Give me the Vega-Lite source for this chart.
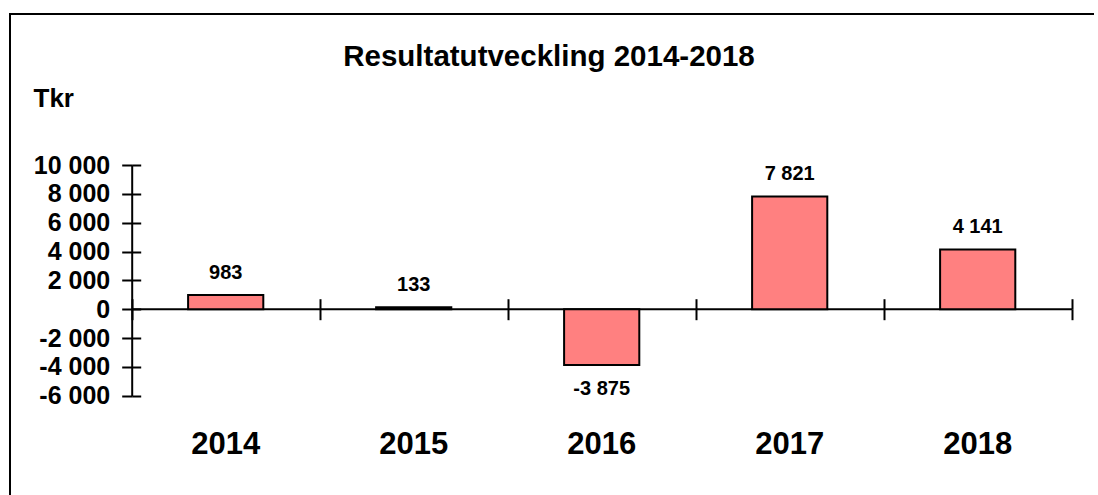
{
  "$schema": "https://vega.github.io/schema/vega-lite/v6.json",
  "width": 1088,
  "height": 481,
  "autosize": {"type": "none"},
  "padding": {"left": 10, "top": 14, "right": 0, "bottom": 0},
  "background": "white",
  "title": {
    "text": "Resultatutveckling 2014-2018",
    "anchor": "middle",
    "frame": "group",
    "font": "Liberation Sans",
    "fontSize": 29.5,
    "fontWeight": "bold",
    "color": "black",
    "baseline": "alphabetic",
    "offset": -81,
    "dx": -5
  },
  "data": {
    "values": [
      {"year": "2014", "value": 983},
      {"year": "2015", "value": 133},
      {"year": "2016", "value": -3875},
      {"year": "2017", "value": 7821},
      {"year": "2018", "value": 4141}
    ]
  },
  "config": {
    "locale": {
      "number": {"decimal": ",", "thousands": " ", "grouping": [3], "currency": ["", " kr"], "minus": "-"}
    },
    "view": {"stroke": "black", "strokeWidth": 2, "strokeDash": [1084, 1573, 481, 10]},
    "axis": {
      "domainColor": "black",
      "tickColor": "black",
      "labelColor": "black",
      "titleColor": "black",
      "domainWidth": 2,
      "tickWidth": 2,
      "grid": false,
      "labelFont": "Liberation Sans",
      "labelFontWeight": "bold",
      "titleFont": "Liberation Sans"
    },
    "text": {"font": "Liberation Sans", "fontWeight": "bold", "fontSize": 20, "color": "black"}
  },
  "resolve": {"axis": {"x": "independent", "y": "independent"}},
  "layer": [
    {
      "mark": {"type": "bar", "fill": "#FF8080", "stroke": "black", "strokeWidth": 2, "width": {"band": 0.4}},
      "encoding": {
        "x": {
          "field": "year", "type": "nominal",
          "scale": {"type": "band", "paddingInner": 0, "paddingOuter": 0, "range": [121.7, 1061.7]},
          "axis": {"orient": "bottom", "offset": -42, "domain": false, "ticks": false, "tickSize": 0, "labelPadding": 0, "labelBaseline": "alphabetic", "labelFontSize": 31, "labelAngle": 0, "title": null}
        },
        "y": {
          "field": "value", "type": "quantitative",
          "scale": {"domain": [-6000, 10000], "nice": false, "zero": false, "range": [381.7, 151]},
          "axis": {
            "orient": "left", "offset": -121.7,
            "values": [-6000, -4000, -2000, 0, 2000, 4000, 6000, 8000, 10000],
            "format": ",.0f",
            "tickSize": 10, "labelPadding": 12, "labelFontSize": 25, "labelBaseline": "middle",
            "title": "Tkr", "titleAngle": 0, "titleAlign": "left", "titleBaseline": "alphabetic",
            "titleX": -98.7, "titleY": 92, "titleFontSize": 26, "titleFontWeight": "bold"
          }
        }
      }
    },
    {
      "transform": [{"filter": "datum.value >= 0"}],
      "mark": {"type": "text", "baseline": "alphabetic", "dy": -16.5},
      "encoding": {
        "x": {
          "field": "year", "type": "nominal",
          "scale": {"type": "band", "paddingInner": 0, "paddingOuter": 0, "range": [121.7, 1061.7]},
          "axis": {"orient": "top", "offset": -294.7, "domain": true, "ticks": true, "tickSize": 10, "tickBand": "extent", "labels": false, "title": null}
        },
        "y": {
          "field": "value", "type": "quantitative",
          "scale": {"domain": [-6000, 10000], "nice": false, "zero": false, "range": [381.7, 151]},
          "axis": {"orient": "right", "offset": -966.3, "domain": false, "ticks": true, "tickSize": 9, "labels": false, "values": [-6000, -4000, -2000, 0, 2000, 4000, 6000, 8000, 10000], "title": null}
        },
        "text": {"field": "value", "type": "quantitative", "format": ",.0f"}
      }
    },
    {
      "transform": [{"filter": "datum.value < 0"}],
      "mark": {"type": "text", "baseline": "alphabetic", "dy": 30},
      "encoding": {
        "x": {
          "field": "year", "type": "nominal",
          "scale": {"type": "band", "paddingInner": 0, "paddingOuter": 0, "range": [121.7, 1061.7]},
          "axis": {"orient": "bottom", "offset": -186.3, "domain": false, "ticks": true, "tickSize": 11, "tickBand": "extent", "labels": false, "title": null}
        },
        "y": {
          "field": "value", "type": "quantitative",
          "scale": {"domain": [-6000, 10000], "nice": false, "zero": false, "range": [381.7, 151]},
          "axis": null
        },
        "text": {"field": "value", "type": "quantitative", "format": ",.0f"}
      }
    }
  ]
}
